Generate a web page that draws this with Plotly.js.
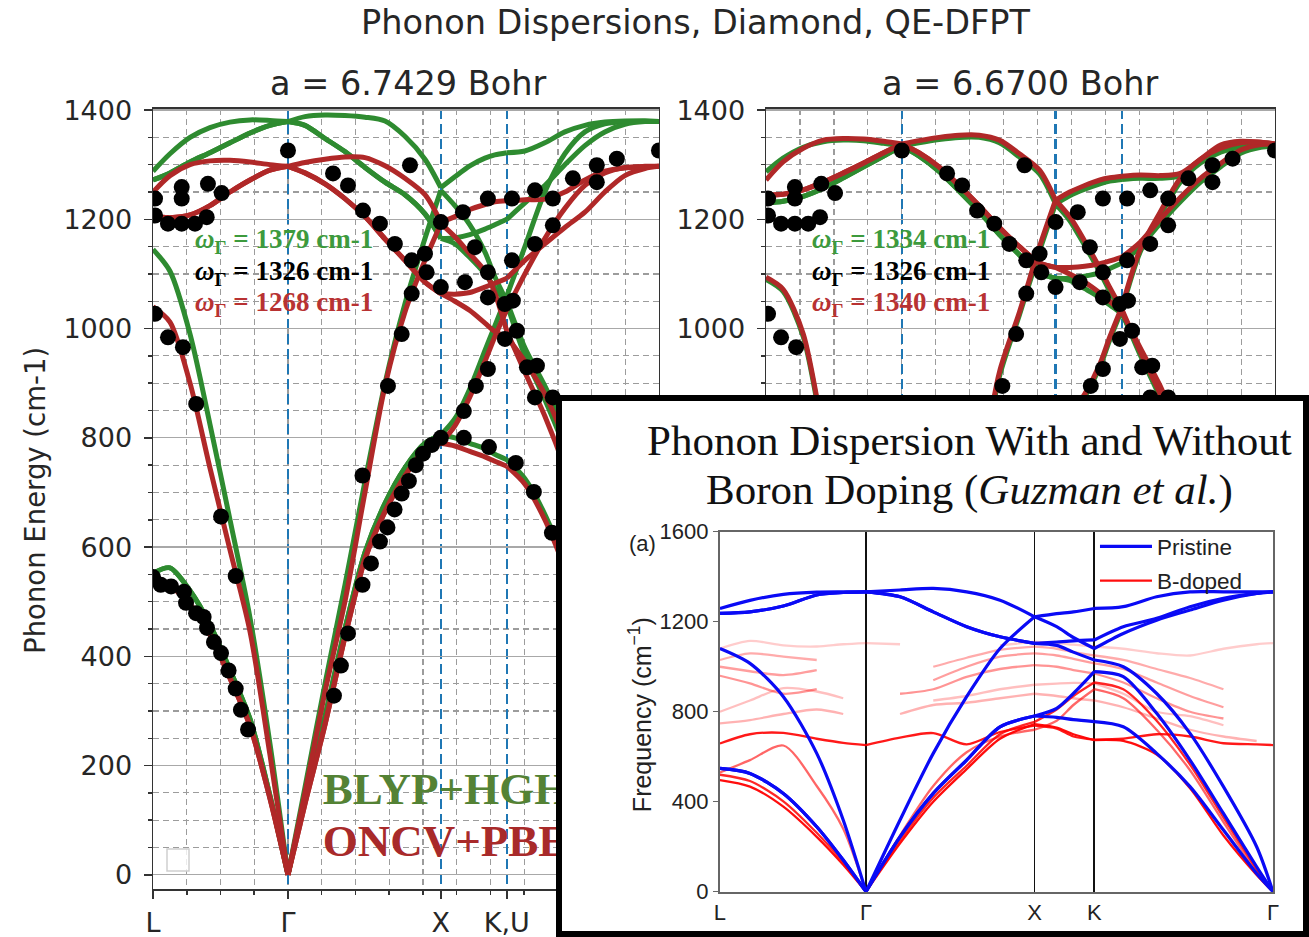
<!DOCTYPE html>
<html><head><meta charset="utf-8">
<script src="https://cdn.plot.ly/plotly-3.0.1.min.js"></script>
<style>html,body{margin:0;padding:0;background:#fff}</style>
</head><body><div id="chart" style="width:1309px;height:937px"></div>
<script>
// ---------- k-path of the two QE-DFPT panels ----------
const kPath = [0,0.110,0.240,0.369,0.499,0.629,0.758,0.875,0.985,1.115,1.244,1.374,1.504,1.633,1.763,1.866,1.957,2.054,2.152,2.216,2.294,2.411,2.540,2.670,2.800,2.929,3.059,3.189,3.280];
const pathBreaks = [0,7,15,20,28];
const symK = [0,0.875,1.866,2.294,3.280];
const symLabelsLeft = ['L','Γ','X','K,U',''];   // last Γ lies under the inset
const symLabelsRight = ['','','','',''];        // hidden under the inset
const yTicks = [0,200,400,600,800,1000,1200,1400];
const yLabelsLeft = ['0','200','400','600','800','1000','1200','1400'];
const yLabelsRight = ['','','','','','1000','1200','1400'];

// a = 6.7429 Bohr : BLYP+HGH (green)
const blypA_TA1 = [552,562,520,458,375,285,145,0, 140,290,450,590,680,745,790,805, 800,790,780,770,760, 725,660,570,460,340,215,100,0];
const blypA_TA2 = [552,562,520,458,375,285,145,0, 140,290,450,590,680,745,790,805, 835,890,960,1005,1060, 1150,1250,1320,1360,1375,1379,1380,1379];
const blypA_LA  = [1145,1105,990,825,650,470,240,0, 160,350,530,720,900,1045,1165,1253, 1225,1190,1140,1095,1050, 965,895,815,700,545,365,180,0];
const blypA_TO1 = [1272,1285,1305,1322,1340,1358,1372,1379, 1372,1348,1324,1295,1268,1245,1210,1165, 1155,1130,1100,1075,1045, 950,870,780,660,510,340,165,0];
const blypA_TO2 = [1272,1285,1305,1322,1340,1358,1372,1379, 1372,1348,1324,1295,1268,1245,1210,1165, 1166,1172,1182,1190,1200, 1230,1262,1300,1335,1360,1374,1379,1379];
const blypA_LO  = [1288,1320,1350,1368,1378,1382,1381,1379, 1388,1391,1390,1387,1380,1352,1310,1258, 1278,1298,1312,1318,1322, 1325,1340,1360,1372,1378,1380,1380,1379];
// a = 6.7429 Bohr : ONCV+PBE (red)
const oncvA_TA1 = [548,530,495,440,360,272,140,0, 130,275,435,578,665,730,778,790, 785,775,765,757,748, 715,650,560,450,330,210,95,0];
const oncvA_TA2 = [548,530,495,440,360,272,140,0, 130,275,435,578,665,730,778,790, 822,875,940,985,1035, 1100,1165,1220,1262,1285,1295,1297,1297];
const oncvA_LA  = [1040,1012,900,745,595,445,220,0, 150,335,500,700,895,1030,1125,1192, 1168,1137,1105,1065,995, 920,840,745,630,490,330,160,0];
const oncvA_TO1 = [1205,1203,1208,1225,1250,1272,1290,1297, 1285,1265,1238,1205,1164,1125,1085,1064, 1050,1033,1010,995,985, 940,880,795,685,535,355,175,0];
const oncvA_TO2 = [1205,1203,1208,1225,1250,1272,1290,1297, 1285,1265,1238,1205,1164,1125,1085,1064, 1063,1066,1076,1083,1092, 1125,1155,1185,1213,1250,1280,1293,1297];
const oncvA_LO  = [1250,1280,1300,1307,1308,1305,1300,1297, 1304,1310,1314,1313,1298,1275,1245,1195, 1205,1218,1227,1232,1234, 1236,1237,1250,1272,1288,1294,1296,1297];

// a = 6.6700 Bohr : BLYP+HGH (green)
const blypB_TA1 = [560,545,508,456,377,288,148,0, 138,282,440,580,676,746,790,805, 800,790,780,770,760, 726,665,575,465,342,218,98,0];
const blypB_TA2 = [560,545,508,456,377,288,148,0, 138,282,440,580,676,746,790,805, 835,875,930,980,1035, 1140,1207,1268,1303,1323,1332,1335,1334];
const blypB_LA  = [1090,1068,985,805,636,456,232,0, 148,332,515,715,912,1025,1142,1228, 1198,1152,1103,1068,1030, 952,874,785,676,526,352,172,0];
const blypB_TO1 = [1230,1233,1242,1257,1276,1296,1316,1334, 1316,1288,1252,1214,1172,1135,1102,1092, 1088,1073,1057,1043,1027, 960,890,800,690,540,362,178,0];
const blypB_TO2 = [1230,1233,1242,1257,1276,1296,1316,1334, 1316,1288,1252,1214,1172,1135,1102,1092, 1092,1096,1102,1110,1120, 1150,1192,1232,1268,1296,1321,1332,1334];
const blypB_LO  = [1287,1312,1332,1342,1345,1344,1339,1334, 1340,1346,1350,1350,1340,1314,1283,1228, 1243,1255,1265,1270,1273, 1275,1275,1280,1305,1330,1337,1336,1334];
// a = 6.6700 Bohr : ONCV+PBE (red)
const oncvB_TA1 = [565,548,512,460,380,290,150,0, 140,285,445,585,680,750,795,810, 805,795,785,775,765, 730,670,580,470,345,220,100,0];
const oncvB_TA2 = [565,548,512,460,380,290,150,0, 140,285,445,585,680,750,795,810, 840,880,935,985,1040, 1145,1213,1275,1310,1330,1340,1341,1338];
const oncvB_LA  = [1094,1072,990,810,640,460,235,0, 150,335,520,720,920,1030,1150,1235, 1205,1160,1110,1075,1035, 958,880,790,680,530,355,175,0];
const oncvB_TO1 = [1244,1246,1254,1268,1285,1303,1322,1338, 1322,1296,1262,1225,1185,1150,1120,1112, 1100,1085,1065,1050,1030, 965,895,805,695,545,365,180,0];
const oncvB_TO2 = [1244,1246,1254,1268,1285,1303,1322,1338, 1322,1296,1262,1225,1185,1150,1120,1112, 1112,1114,1119,1124,1131, 1158,1200,1240,1275,1302,1327,1337,1338];
const oncvB_LO  = [1272,1305,1330,1345,1348,1347,1343,1338, 1344,1350,1354,1354,1345,1320,1290,1235, 1250,1262,1272,1276,1279, 1281,1280,1284,1310,1336,1343,1341,1338];

// experimental points (black dots)
const expK = [0.875,3.280, 0.013,0.186,0.186,0.356,0.445, 0.013,0.097,0.186,0.272,0.348, 1.167,1.264,1.361,1.471,1.568, 1.666,1.677,1.763,1.774, 1.866,1.866,1.677,1.612,1.523, 0.013,0.097,0.194,0.280, 2.009,2.171,2.327,2.476,2.592, 2.722,2.877,2.877,3.007, 2.022,2.087,2.171,2.171,2.281,2.333,2.327,2.476,2.592, 2.359,2.281,2.171,2.093,2.424,2.489,2.476,2.592, 0.000,0.050,0.117,0.201,0.214,0.279,0.328,0.350,0.395,0.441,0.490,0.536,0.570,0.616, 0.441,0.536, 1.173,1.218,1.264,1.358,1.413,1.471,1.520,1.566,1.612,1.659,1.704,1.750,1.808,1.866, 1.358, 2.015,2.178,2.352,2.469,2.586,2.015];
const expW = [1326,1326, 1238,1259,1238,1265,1248, 1207,1192,1192,1192,1204, 1284,1262,1216,1192,1155, 1299,1125,1137,1103, 1195,1076,1064,990,895, 1027,984,966,862, 1213,1238,1238,1253,1238, 1275,1299,1268,1311, 1085,1149,1103,1057,1045,1051,1125,1155,1189, 996,981,926,895,929,932,874,874, 545,531,528,518,498,479,472,452,426,406,374,341,302,266, 656,547, 328,383,442,531,570,610,636,669,698,721,750,771,787,800, 731, 800,783,754,701,626,849];

// ---------- inset (Guzman et al.) ----------
const kIn = [0,0.178,0.376,0.574,0.731,0.866,1.068,1.265,1.463,1.661,1.866,1.997,2.096,2.220,2.392,2.590,2.788,2.986,3.183,3.280];
const inBreaks = [0,5,10,13,19];
const inSymK = [0,0.866,1.866,2.220,3.280];
const inLabels = ['L','Γ','X','K','Γ'];
const pristine_TA1 = [548,526,437,289,141,0, 244,437,585,733,781, 775,765,756, 733,615,467,274,81,0];
const pristine_TA2 = [548,526,437,289,141,0, 244,437,585,733,781, 815,881,978, 956,793,585,348,111,0];
const pristine_LA  = [1081,1015,867,615,319,0, 319,615,867,1081,1222, 1178,1130,1081, 1148,1207,1252,1296,1326,1333];
const pristine_TO1 = [1237,1244,1270,1319,1330,1333, 1311,1244,1178,1133,1104, 1110,1115,1119, 1178,1215,1267,1304,1326,1333];
const pristine_TO2 = [1237,1244,1270,1319,1330,1333, 1311,1244,1178,1133,1104, 1095,1065,1030, 1000,881,704,467,200,0];
const pristine_LO  = [1259,1295,1322,1332,1333,1333, 1341,1348,1333,1296,1222, 1236,1244,1259, 1267,1311,1333,1333,1333,1333];
const bdoped_1  = [496,467,378,244,120,0, 215,400,545,680,745, 730,700,674, 670,610,460,250,75,0];
const bdoped_2  = [520,492,402,262,132,0, 228,418,560,700,755, 810,870,930, 900,760,565,330,100,0];
const bdoped_3  = [659,700,706,680,662,652, 685,705,655,710,738, 725,690,676, 680,700,690,660,655,652];
const bdoped_4  = [530,585,650,470,280,0, 250,470,620,690,720, 760,830,900, 860,720,540,310,90,0];
const bdoped_5  = [1081,1115,1095,1090,1100,1105, 1100,null,null,1095,1111, 1105,1098,1090, 1080,1060,1050,1080,1100,1105];
const bdoped_6  = [1030,1059,1045,1030,null,null, null,1000,1040,1075,1089, 1080,1065,1050, 1030,990,950,900,null,null];
const bdoped_7  = [1000,980,963,985,null,null, null,940,1000,1045,1059, 1050,1035,1015, 990,930,870,820,null,null];
const bdoped_8  = [960,926,880,900,null,null, 880,900,955,990,1007, 1000,985,970, 930,860,800,770,null,null];
const bdoped_9  = [800,850,905,890,860,null, null,850,870,900,920, 925,928,926, 880,800,780,740,null,null];
const bdoped_10 = [748,763,790,810,790,null, 790,830,840,860,880, 870,860,850, 820,770,720,690,670,null];
const bdopedOpacity = [0.95,0.85,0.9,0.6,0.2,0.33,0.38,0.42,0.25,0.3];

// ---------- build traces ----------
const traces = [];
function addBands(bands, kArr, breaks, color, width, xa, ya, opac, legend, rank) {
  bands.forEach((band, bi) => {
    for (let s = 0; s < breaks.length - 1; s++) {
      const a = breaks[s], b = breaks[s + 1];
      const show = !!legend && bi === 0 && s === 0;
      traces.push({
        type: 'scatter', mode: 'lines',
        x: kArr.slice(a, b + 1), y: band.slice(a, b + 1),
        xaxis: xa, yaxis: ya,
        line: {color: color, width: width, shape: 'spline', smoothing: 0.8},
        opacity: Array.isArray(opac) ? opac[bi] : opac,
        hoverinfo: 'skip', connectgaps: false,
        showlegend: show, name: legend || '', legendgroup: legend || '', legendrank: rank || 1000
      });
    }
  });
}
const GREEN = '#2e8b30', RED = '#b02828';
addBands([blypA_TA1,blypA_TA2,blypA_LA,blypA_TO1,blypA_TO2,blypA_LO], kPath, pathBreaks, GREEN, 5, 'x', 'y', 1);
addBands([oncvA_TA1,oncvA_TA2,oncvA_LA,oncvA_TO1,oncvA_TO2,oncvA_LO], kPath, pathBreaks, RED, 5, 'x', 'y', 1);
traces.push({type:'scatter', mode:'markers', x: expK, y: expW, xaxis:'x', yaxis:'y',
  marker:{color:'#000', size:16}, showlegend:false, hoverinfo:'skip'});
traces.push({type:'scatter', mode:'text', x:[1.10, 1.10], y:[150, 55], text:['BLYP+HGH','ONCV+PBE'],
  textposition:'middle right', xaxis:'x', yaxis:'y', showlegend:false, hoverinfo:'skip',
  textfont:{family:'Liberation Serif', size:45, color:['#548235','#a82a2a'], weight:'bold'}});

addBands([blypB_TA1,blypB_TA2,blypB_LA,blypB_TO1,blypB_TO2,blypB_LO], kPath, pathBreaks, GREEN, 5, 'x2', 'y2', 1);
addBands([oncvB_TA1,oncvB_TA2,oncvB_LA,oncvB_TO1,oncvB_TO2,oncvB_LO], kPath, pathBreaks, RED, 5, 'x2', 'y2', 1);
traces.push({type:'scatter', mode:'markers', x: expK, y: expW, xaxis:'x2', yaxis:'y2',
  marker:{color:'#000', size:16}, showlegend:false, hoverinfo:'skip'});

// white inset panel (empty subplot providing the opaque background)
traces.push({type:'scatter', mode:'markers', x:[], y:[], xaxis:'x3', yaxis:'y3', showlegend:false, hoverinfo:'skip'});

addBands([bdoped_1,bdoped_2,bdoped_3,bdoped_4,bdoped_5,bdoped_6,bdoped_7,bdoped_8,bdoped_9,bdoped_10],
  kIn, inBreaks, '#ff0000', 2.3, 'x4', 'y4', bdopedOpacity, 'B-doped', 2);
addBands([pristine_TA1,pristine_TA2,pristine_LA,pristine_TO1,pristine_TO2,pristine_LO],
  kIn, inBreaks, '#0a0af5', 3.2, 'x4', 'y4', 1, 'Pristine', 1);

// ---------- axes ----------
const tickFont = {family:'DejaVu Sans', size:27, color:'#262626'};
function panelX(domain, labels) {
  return {domain: domain, range:[0,3.28], tickmode:'array', tickvals: symK, ticktext: labels,
    showgrid:true, gridcolor:'#1f77b4', gridwidth:2.5, griddash:'10px,5px',
    minor:{tickmode:'linear', tick0:0, dtick:0.21875, showgrid:true, gridcolor:'#9c9c9c', griddash:'6px,4px', gridwidth:1.2,
      ticks:'outside', ticklen:4, tickcolor:'#333'},
    ticks:'outside', ticklen:8, tickwidth:1.5, tickcolor:'#333', ticklabelstandoff:1,
    showline:true, mirror:true, linecolor:'#333', linewidth:1.5, zeroline:false, tickfont: tickFont, fixedrange:true};
}
function panelY(domain, labels) {
  return {domain: domain, range:[-26,1402], tickmode:'array', tickvals: yTicks, ticktext: labels,
    showgrid:true, gridcolor:'#a8a8a8', gridwidth:1.3,
    minor:{tickmode:'linear', tick0:0, dtick:50, showgrid:true, gridcolor:'#9c9c9c', griddash:'6px,4px', gridwidth:1.2,
      ticks:'outside', ticklen:4, tickcolor:'#333'},
    ticks:'outside', ticklen:8, tickwidth:1.5, tickcolor:'#333', ticklabelstandoff:6,
    showline:true, mirror:true, linecolor:'#333', linewidth:1.5, zeroline:false, tickfont: tickFont, fixedrange:true};
}
const yDom = [0.0512, 0.8837];
const xaxis = panelX([0.1169, 0.5034], symLabelsLeft); xaxis.anchor = 'y';
const yaxis = panelY(yDom, yLabelsLeft); yaxis.anchor = 'x';
const xaxis2 = panelX([0.5852, 0.9740], symLabelsRight); xaxis2.anchor = 'y2';
const yaxis2 = panelY(yDom, yLabelsRight); yaxis2.anchor = 'x2';
const blank = {showline:false, showgrid:false, zeroline:false, showticklabels:false, ticks:'', fixedrange:true, range:[0,1]};
const xaxis3 = Object.assign({}, blank, {domain:[0.4248, 1], anchor:'y3'});
const yaxis3 = Object.assign({}, blank, {domain:[0, 0.5784], anchor:'x3'});
const inFont = {family:'Liberation Sans', size:22, color:'#222'};
const xaxis4 = {domain:[0.5500, 0.9725], anchor:'y4', range:[0,3.28], tickmode:'array', tickvals: inSymK, ticktext: inLabels,
  showgrid:true, gridcolor:'#111', gridwidth:1.6, showline:true, mirror:true, linecolor:'#666', linewidth:2,
  ticks:'', ticklabelstandoff:0, zeroline:false, tickfont: inFont, fixedrange:true};
const yaxis4 = {domain:[0.0483, 0.4325], anchor:'x4', range:[0,1600], tickmode:'array', tickvals:[0,400,800,1200,1600],
  showgrid:false, showline:true, mirror:true, linecolor:'#666', linewidth:2, ticks:'outside', ticklen:5, tickcolor:'#666',
  zeroline:false, tickfont: inFont, fixedrange:true};

const serifBold = (c) => ({family:'Liberation Serif', size:27, color:c});
function omegaLabels(xp, vals, colors) {
  const ys = [0.7428, 0.7086, 0.6756];
  return vals.map((v, i) => ({xref:'paper', yref:'paper', x: xp, y: ys[i], xanchor:'left', yanchor:'middle', showarrow:false,
    text:'<b><i>ω</i><sub>Γ</sub> = ' + v + ' cm-1</b>', font: serifBold(colors[i])}));
}
const omegaColors = ['#3d9a3d', '#000000', '#b83232'];
const annotations = [
  {xref:'paper', yref:'paper', x:0.531, y:0.9765, xanchor:'center', yanchor:'middle', showarrow:false,
    text:'Phonon Dispersions, Diamond, QE-DFPT', font:{family:'DejaVu Sans', size:33.5, color:'#262626'}},
  {xref:'paper', yref:'paper', x:0.3117, y:0.9104, xanchor:'center', yanchor:'middle', showarrow:false,
    text:'a = 6.7429 Bohr', font:{family:'DejaVu Sans', size:33.5, color:'#262626'}},
  {xref:'paper', yref:'paper', x:0.7792, y:0.9104, xanchor:'center', yanchor:'middle', showarrow:false,
    text:'a = 6.6700 Bohr', font:{family:'DejaVu Sans', size:33.5, color:'#262626'}},
  {xref:'paper', yref:'paper', x:0.0267, y:0.4664, xanchor:'center', yanchor:'middle', showarrow:false, textangle:-90,
    text:'Phonon Energy (cm-1)', font:{family:'DejaVu Sans', size:27.5, color:'#262626'}},
  ...omegaLabels(0.1474, [1379, 1326, 1268], omegaColors),
  ...omegaLabels(0.6188, [1334, 1326, 1340], omegaColors),
  {xref:'paper', yref:'paper', x:0.741, y:0.5304, xanchor:'center', yanchor:'middle', showarrow:false,
    text:'Phonon Dispersion With and Without', font:{family:'Liberation Serif', size:43, color:'#111'}},
  {xref:'paper', yref:'paper', x:0.741, y:0.4770, xanchor:'center', yanchor:'middle', showarrow:false,
    text:'Boron Doping (<i>Guzman et al.</i>)', font:{family:'Liberation Serif', size:43, color:'#111'}},
  {xref:'paper', yref:'paper', x:0.5030, y:0.4195, xanchor:'right', yanchor:'middle', showarrow:false,
    text:'(a)', font:{family:'Liberation Sans', size:22, color:'#222'}},
  {xref:'paper', yref:'paper', x:0.4890, y:0.2369, xanchor:'center', yanchor:'middle', showarrow:false, textangle:-90,
    text:'Frequency (cm<sup>−1</sup>)', font:{family:'Liberation Sans', size:25, color:'#222'}}
];

const shapes = [
  {type:'rect', xref:'paper', yref:'paper', x0:167/1309, x1:189/1309, y0:1-871/937, y1:1-849/937,
    line:{color:'#cfcfcf', width:1.5}, fillcolor:'rgba(255,255,255,0.8)', layer:'above'},
  {type:'rect', xref:'paper', yref:'paper', x0:559/1309, x1:1306/1309, y0:3/937, y1:1-398/937,
    line:{color:'#000', width:6}, fillcolor:'rgba(0,0,0,0)', layer:'above'}
];

const layout = {
  width:1309, height:937, autosize:false, margin:{l:0, r:0, t:0, b:0},
  paper_bgcolor:'#fff', plot_bgcolor:'#fff',
  xaxis, yaxis, xaxis2, yaxis2, xaxis3, yaxis3, xaxis4, yaxis4,
  annotations, shapes,
  showlegend:true,
  legend:{x:0.8365, y:0.4395, xanchor:'left', yanchor:'top', bgcolor:'rgba(0,0,0,0)', borderwidth:0,
    font:{family:'Liberation Sans', size:22.5, color:'#222'}, tracegroupgap:2, itemwidth:52}
};

Plotly.newPlot('chart', traces, layout, {staticPlot:true, displayModeBar:false});
</script></body></html>
